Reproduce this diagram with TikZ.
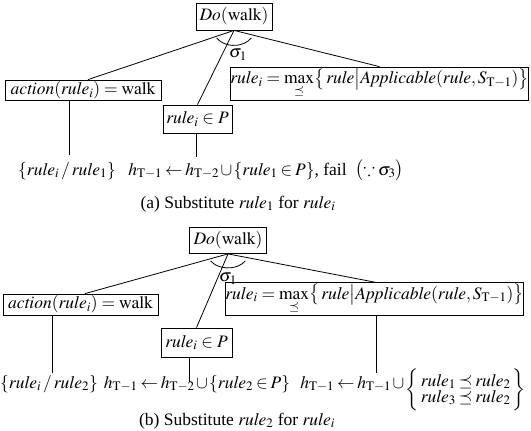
\documentclass[tikz,border=0pt]{standalone}
\usepackage{amsmath}
\usepackage{mathptmx}
\usepackage{amssymb}
\usepackage[no-math]{fontspec}
\setmainfont{Liberation Serif}
\newcommand{\tightmath}{\medmuskip=1.5mu plus 1mu\thickmuskip=3mu plus 1mu}
\newcommand{\maxexpr}{$\mathit{rule}_i=\max\limits_{\preceq}\bigl\{\,\mathit{rule}\big|\mathit{Applicable}(\mathit{rule},S_{\mathrm{T}-1})\bigr\}$}
\begin{document}
\begin{tikzpicture}[x=1pt,y=-1pt,
  font=\fontsize{17.5}{20}\selectfont,
  box/.style={draw, line width=0.8pt, inner sep=0pt},
  conn/.style={line width=0.8pt},
  lbl/.style={anchor=base, inner sep=0pt, execute at begin node=\tightmath}]
\useasboundingbox (0,0) rectangle (531,431);
% ---------- (a) ----------
\node[box, minimum width=76pt, minimum height=27pt] (do1) at (234,16.5) {$\mathit{Do}(\mathrm{walk})$};
\node[box, minimum width=156pt, minimum height=20pt] (act1) at (83,90) {$\mathit{action}(\mathit{rule}_i)=\mathrm{walk}$};
\node[box, minimum width=69pt, minimum height=28pt] (inp1) at (197.5,119) {$\mathit{rule}_i\in P$};
\node[box, minimum width=285pt, minimum height=33pt] (max1) at (379.5,83.5) {\maxexpr};
\draw[conn] (do1.south) -- ([xshift=5pt]act1.north);
\draw[conn] (do1.south) -- (inp1.north);
\draw[conn] (do1.south) -- (max1.north);
\draw[conn] ([shift={(150:20 and 15)}]do1.south) arc[start angle=150, end angle=30, x radius=20, y radius=15];
\node[inner sep=0pt] (s1) at (238,55) {$\sigma_1$};
\coordinate (e1a) at (69,155);
\coordinate (e1b) at (196,157);
\draw[conn] (act1.south -| e1a) -- (e1a);
\draw[conn] (inp1.south -| e1b) -- (e1b);
\node[lbl] (t1a) at (67,175) {$\{\mathit{rule}_i\,/\,\mathit{rule}_1\}$};
\node[lbl] (t1b) at (266,175) {$h_{\mathrm{T}-1}\leftarrow h_{\mathrm{T}-2}\cup\{\mathit{rule}_1\in P\}$, fail\enspace $\bigl(\because\sigma_3\bigr)$};
\node[lbl] (cap1) at (238,208) {(a) Substitute $\mathit{rule}_1$ for $\mathit{rule}_i$};
% ---------- (b) ----------
\node[box, minimum width=77pt, minimum height=26pt] (do2) at (228,240.5) {$\mathit{Do}(\mathrm{walk})$};
\node[box, minimum width=155pt, minimum height=21pt] (act2) at (80.5,304.5) {$\mathit{action}(\mathit{rule}_i)=\mathrm{walk}$};
\node[box, minimum width=71pt, minimum height=29pt] (inp2) at (196.5,342.5) {$\mathit{rule}_i\in P$};
\node[box, minimum width=287pt, minimum height=33pt] (max2) at (374.5,299) {\maxexpr};
\draw[conn] (do2.south) -- ([xshift=4.5pt]act2.north);
\draw[conn] (do2.south) -- (inp2.north);
\draw[conn] (do2.south) -- (max2.north);
\draw[conn] ([shift={(150:20 and 14)}]do2.south) arc[start angle=150, end angle=30, x radius=20, y radius=14];
\node[inner sep=0pt] (s2) at (228,278.5) {$\sigma_1$};
\coordinate (e2a) at (52,373);
\coordinate (e2b) at (189,382);
\coordinate (e2c) at (376,373);
\draw[conn] (act2.south -| e2a) -- (e2a);
\draw[conn] (inp2.south -| e2b) -- (e2b);
\draw[conn] (max2.south -| e2c) -- (e2c);
\node[lbl] (t2a) at (49,388) {$\{\mathit{rule}_i\,/\,\mathit{rule}_2\}$};
\node[lbl] (t2b) at (197,388) {$h_{\mathrm{T}-1}\leftarrow h_{\mathrm{T}-2}\cup\{\mathit{rule}_2\in P\}$};
\node[lbl] (t2c) at (413,388) {$h_{\mathrm{T}-1}\leftarrow h_{\mathrm{T}-1}\cup\raisebox{-6.5pt}{$\left\{\begin{array}{@{\,}l@{\,}}\mathit{rule}_1\preceq\mathit{rule}_2\\[-4pt]\mathit{rule}_3\preceq\mathit{rule}_2\end{array}\right\}$}$};
\node[lbl] (cap2) at (237,425) {(b) Substitute $\mathit{rule}_2$ for $\mathit{rule}_i$};
\end{tikzpicture}
\end{document}
